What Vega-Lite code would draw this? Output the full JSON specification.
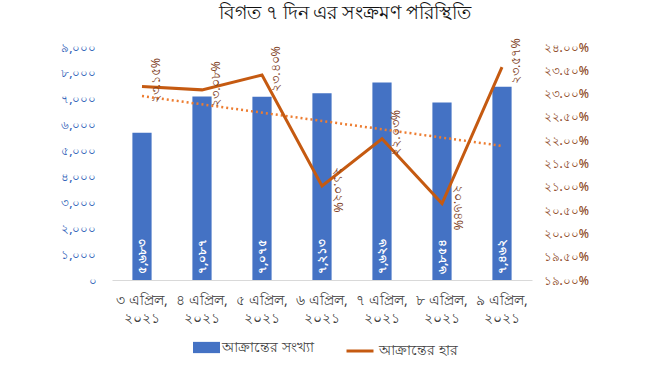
{
  "$schema": "https://vega.github.io/schema/vega-lite/v6.json",
  "autosize": {"type": "none"},
  "padding": {"left": 112, "top": 47, "right": 118, "bottom": 85},
  "width": 420,
  "height": 233,
  "background": "white",
  "title": {
    "text": "বিগত ৭ দিন এর সংক্রমণ পরিস্থিতি",
    "anchor": "middle",
    "dx": 23,
    "offset": 15,
    "fontSize": 19,
    "fontWeight": 500,
    "color": "#111111",
    "font": "Noto Sans"
  },
  "data": {
    "values": [
      {"date": "৩ এপ্রিল, ২০২১", "cases": 5683, "rate": 23.15, "caseLabel": "৫,৬৮৩", "rateLabel": "২৩.১৫%"},
      {"date": "৪ এপ্রিল, ২০২১", "cases": 7087, "rate": 23.08, "caseLabel": "৭,০৮৭", "rateLabel": "২৩.০৮%"},
      {"date": "৫ এপ্রিল, ২০২১", "cases": 7075, "rate": 23.40, "caseLabel": "৭,০৭৫", "rateLabel": "২৩.৪০%"},
      {"date": "৬ এপ্রিল, ২০২১", "cases": 7213, "rate": 21.02, "caseLabel": "৭,২১৩", "rateLabel": "২১.০২%"},
      {"date": "৭ এপ্রিল, ২০২১", "cases": 7626, "rate": 22.03, "caseLabel": "৭,৬২৬", "rateLabel": "২২.০৩%"},
      {"date": "৮ এপ্রিল, ২০২১", "cases": 6854, "rate": 20.64, "caseLabel": "৬,৮৫৪", "rateLabel": "২০.৬৪%"},
      {"date": "৯ এপ্রিল, ২০২১", "cases": 7462, "rate": 23.57, "caseLabel": "৭,৪৬২", "rateLabel": "২৩.৫৭%"}
    ]
  },
  "layer": [
    {
      "encoding": {
        "x": {
          "field": "date",
          "type": "nominal",
          "sort": null,
          "scale": {"paddingInner": 0.68, "paddingOuter": 0.34},
          "axis": {
            "title": null,
            "labelAngle": 0,
            "ticks": false,
            "domainColor": "#D9D9D9",
            "labelColor": "#404040",
            "labelFontSize": 14,
            "labelPadding": 13,
            "labelLineHeight": 18,
            "labelExpr": "[split(datum.label, ', ')[0] + ',', split(datum.label, ', ')[1]]"
          }
        },
        "y": {
          "field": "cases",
          "type": "quantitative",
          "scale": {"domain": [0, 9000]},
          "axis": {
            "orient": "left",
            "title": null,
            "grid": false,
            "domain": false,
            "ticks": false,
            "values": [0, 1000, 2000, 3000, 4000, 5000, 6000, 7000, 8000, 9000],
            "labelColor": "#2F62B8",
            "labelFontSize": 12,
            "labelFontWeight": 500,
            "labelPadding": 16,
            "labelExpr": "replace(replace(replace(replace(replace(replace(replace(replace(replace(replace(datum.label,regexp('0','g'),'০'),regexp('1','g'),'১'),regexp('2','g'),'২'),regexp('3','g'),'৩'),regexp('4','g'),'৪'),regexp('5','g'),'৫'),regexp('6','g'),'৬'),regexp('7','g'),'৭'),regexp('8','g'),'৮'),regexp('9','g'),'৯')"
          }
        }
      },
      "layer": [
        {
          "mark": {"type": "bar"},
          "encoding": {
            "color": {
              "datum": "আক্রান্তের সংখ্যা",
              "scale": {"range": ["#4472C4"]},
              "legend": {
                "orient": "none",
                "legendX": 83,
                "legendY": 289,
                "title": null,
                "symbolType": "M-1.2,-0.5H1.2V0.5H-1.2Z",
                "symbolSize": 506,
                "symbolStrokeWidth": 0,
                "labelFontSize": 14,
                "labelColor": "#404040",
                "labelOffset": 4
              }
            }
          }
        },
        {
          "mark": {"type": "text", "angle": 270, "align": "left", "baseline": "middle", "dx": 6, "color": "white", "fontSize": 12, "fontWeight": "bold"},
          "encoding": {
            "y": {"datum": 0, "type": "quantitative"},
            "text": {"field": "caseLabel"}
          }
        }
      ]
    },
    {
      "transform": [
        {"window": [{"op": "row_number", "as": "idx"}]},
        {"regression": "rate", "on": "idx"}
      ],
      "mark": {"type": "line", "color": "#ED7D31", "strokeWidth": 2.5, "strokeDash": [2, 3]},
      "encoding": {
        "x": {"field": "idx", "type": "quantitative", "scale": {"domain": [0.5, 7.5]}, "axis": null},
        "y": {"field": "rate", "type": "quantitative", "scale": {"domain": [19, 24]}, "axis": null}
      }
    },
    {
      "encoding": {
        "x": {"field": "date", "type": "nominal", "sort": null, "axis": null},
        "y": {
          "field": "rate",
          "type": "quantitative",
          "scale": {"domain": [19, 24]},
          "axis": {
            "orient": "right",
            "title": null,
            "grid": false,
            "domain": false,
            "ticks": false,
            "values": [19, 19.5, 20, 20.5, 21, 21.5, 22, 22.5, 23, 23.5, 24],
            "labelColor": "#8E4A26",
            "labelFontSize": 12,
            "labelFontWeight": 500,
            "labelPadding": 11,
            "labelExpr": "replace(replace(replace(replace(replace(replace(replace(replace(replace(replace(format(datum.value,'.2f'),regexp('0','g'),'০'),regexp('1','g'),'১'),regexp('2','g'),'২'),regexp('3','g'),'৩'),regexp('4','g'),'৪'),regexp('5','g'),'৫'),regexp('6','g'),'৬'),regexp('7','g'),'৭'),regexp('8','g'),'৮'),regexp('9','g'),'৯') + '%'"
          }
        }
      },
      "layer": [
        {
          "mark": {"type": "line", "strokeWidth": 3, "strokeJoin": "miter"},
          "encoding": {
            "stroke": {
              "datum": "আক্রান্তের হার",
              "scale": {"range": ["#C55A11"]},
              "legend": {
                "orient": "none",
                "legendX": 233,
                "legendY": 289,
                "title": null,
                "symbolType": "stroke",
                "symbolSize": 729,
                "symbolStrokeWidth": 3,
                "labelFontSize": 14,
                "labelColor": "#404040",
                "labelOffset": 4
              }
            }
          }
        },
        {
          "transform": [{"filter": "datum.rate >= 22"}],
          "mark": {"type": "text", "angle": 270, "align": "center", "baseline": "middle", "dx": 6, "dy": 14, "color": "#7F3F1F", "fontSize": 12.5},
          "encoding": {"text": {"field": "rateLabel"}}
        },
        {
          "transform": [{"filter": "datum.rate < 22"}],
          "mark": {"type": "text", "angle": 90, "align": "center", "baseline": "middle", "dx": 4, "dy": -16, "color": "#7F3F1F", "fontSize": 12.5},
          "encoding": {"text": {"field": "rateLabel"}}
        }
      ]
    }
  ],
  "resolve": {"scale": {"x": "independent", "y": "independent", "color": "independent", "stroke": "independent"}},
  "config": {
    "view": {"stroke": null},
    "font": "Noto Sans"
  }
}
